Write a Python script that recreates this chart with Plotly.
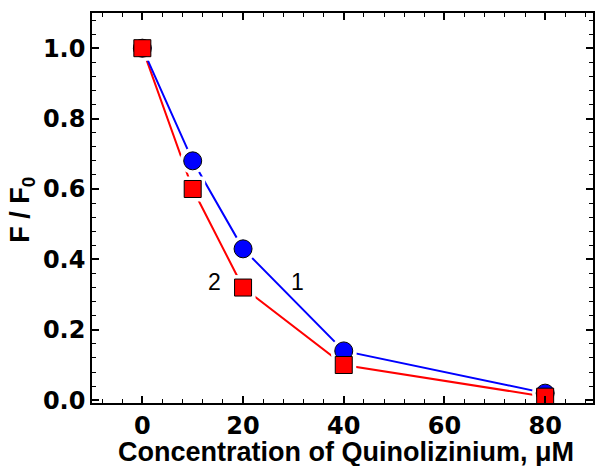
import plotly.graph_objects as go

conc = [0, 10, 20, 40, 80]
series1 = [1.0, 0.68, 0.43, 0.14, 0.02]   # curve 1, blue circles
series2 = [1.0, 0.60, 0.32, 0.10, 0.01]   # curve 2, red squares
x_ticks = [0, 20, 40, 60, 80]
y_ticks = [0.0, 0.2, 0.4, 0.6, 0.8, 1.0]
y_tick_text = ["0.0", "0.2", "0.4", "0.6", "0.8", "1.0"]
x_title = "Concentration of Quinolizinium, μM"
y_title = "F / F<sub>0</sub>"

BLUE = "#0000FF"
RED = "#FF0000"
FONT = "Liberation Sans"
TICKFONT = "DejaVu Sans"

fig = go.Figure()
# lines
fig.add_trace(go.Scatter(x=conc, y=series2, mode="lines", line=dict(color=RED, width=2), showlegend=False, hoverinfo="skip"))
fig.add_trace(go.Scatter(x=conc, y=series1, mode="lines", line=dict(color=BLUE, width=2), showlegend=False, hoverinfo="skip"))
# white halos to create gaps between lines and markers
fig.add_trace(go.Scatter(x=conc, y=series1, mode="markers", marker=dict(symbol="circle", size=26, color="white"), showlegend=False, hoverinfo="skip"))
fig.add_trace(go.Scatter(x=conc, y=series2, mode="markers", marker=dict(symbol="square", size=25, color="white"), showlegend=False, hoverinfo="skip"))
# markers
fig.add_trace(go.Scatter(x=conc, y=series1, mode="markers", name="1",
                         marker=dict(symbol="circle", size=18, color=BLUE, line=dict(color="black", width=1)), showlegend=False))
fig.add_trace(go.Scatter(x=conc, y=series2, mode="markers", name="2",
                         marker=dict(symbol="square", size=17, color=RED, line=dict(color="black", width=1)), showlegend=False))

fig.add_annotation(x=14.3, y=0.335, text="2", showarrow=False, font=dict(family=FONT, size=23, color="black"))
fig.add_annotation(x=30.8, y=0.335, text="1", showarrow=False, font=dict(family=FONT, size=23, color="black"))

# axis titles
fig.add_annotation(xref="paper", yref="paper", x=0.507, y=-0.126, xanchor="center", yanchor="middle",
                   text=x_title, showarrow=False,
                   font=dict(family=FONT, size=27, color="black", weight="bold"))
fig.add_annotation(xref="paper", yref="paper", x=-0.14, y=0.495, xanchor="center", yanchor="middle",
                   text=y_title, textangle=-90, showarrow=False,
                   font=dict(family=FONT, size=27, color="black", weight="bold"))

axis_common = dict(
    showline=True, linecolor="black", linewidth=1.5, mirror="allticks",
    ticks="inside", ticklen=7, tickwidth=1.5, tickcolor="black",
    showgrid=False, zeroline=False, automargin=False,
    tickfont=dict(family=TICKFONT, size=24, color="black", weight="bold"),
)

fig.update_xaxes(
    range=[-10, 89.5], tickvals=x_ticks, ticktext=[str(v) for v in x_ticks],
    minor=dict(dtick=4, tick0=0, ticks="inside", ticklen=4, tickwidth=1, tickcolor="black"),
    **axis_common,
)
fig.update_yaxes(
    range=[-0.008, 1.1], tickvals=y_ticks, ticktext=y_tick_text,
    minor=dict(dtick=0.04, tick0=0, ticks="inside", ticklen=4, tickwidth=1, tickcolor="black"),
    **axis_common,
)

fig.update_layout(
    width=595, height=466,
    margin=dict(l=92, r=2, t=13, b=63),
    plot_bgcolor="white", paper_bgcolor="white",
    showlegend=False,
)

fig.write_html("out.html")
